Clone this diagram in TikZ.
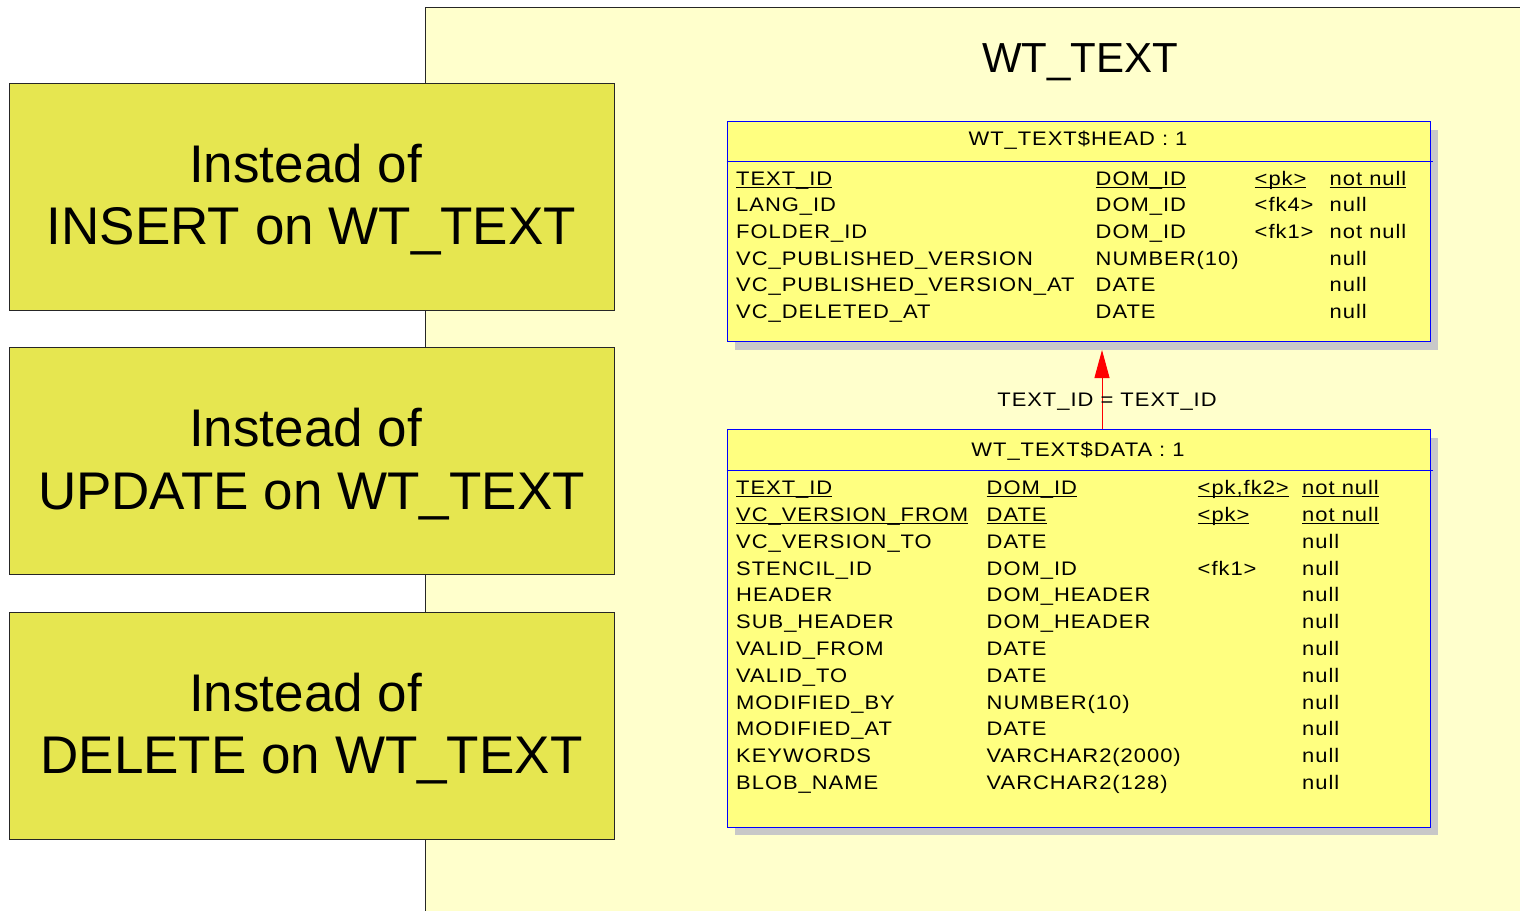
\documentclass[tikz,border=0pt]{standalone}
\usepackage{fontspec}
\setmainfont{Liberation Sans}
\newfontfamily\tabfont[FakeStretch=1.12,LetterSpace=5]{Liberation Sans}
\usetikzlibrary{arrows.meta,shadows}

\definecolor{pkgfill}{RGB}{255,255,204}
\definecolor{trigfill}{RGB}{230,230,80}
\definecolor{tblfill}{RGB}{255,255,128}
\definecolor{tblline}{RGB}{0,0,255}
\definecolor{shadowgray}{RGB}{200,200,200}

% underline at a fixed depth, continuous with the underscores
\newcommand\colul[1]{\setbox0\hbox{#1}\rlap{\rule[-2.6pt]{\wd0}{1.1pt}}\box0}

\tikzset{
  pkgbox/.style={draw=black!85, line width=1pt, fill=pkgfill, inner sep=0pt, anchor=north west},
  trigbox/.style={draw=black!85, line width=1pt, fill=trigfill, inner sep=0pt, anchor=north west,
    minimum width=605pt, minimum height=227pt},
  trigtext/.style={anchor=base, inner sep=0pt, font=\fontsize{53}{62}\selectfont},
  tblbox/.style={draw=tblline, line width=1pt, fill=tblfill, inner sep=0pt, anchor=north west,
    minimum width=703pt,
    drop shadow={shadow xshift=8pt, shadow yshift=-8pt, fill=shadowgray, opacity=1}},
  tbltitle/.style={anchor=base, inner sep=0pt, font=\tabfont\fontsize{19.6}{24}\selectfont},
  cellt/.style={anchor=base west, inner sep=0pt, font=\tabfont\fontsize{19.6}{24}\selectfont},
  sepline/.style={draw=tblline, line width=1pt},
  relarrow/.style={draw=red, line width=1pt, -{Triangle[length=28pt,width=15pt]}, red},
}

\begin{document}
\begin{tikzpicture}[x=1pt,y=-1pt]
\useasboundingbox (0,0) rectangle (1520,910);
\clip (0,0) rectangle (1520,910);
\fill[white] (0,0) rectangle (1520,910);

% package frame
\node[pkgbox, minimum width=1095pt, minimum height=930pt] (pkg) at (424.5,6.5) {};
\node[anchor=base, inner sep=0pt, font=\fontsize{42}{50}\selectfont] (pkgname) at (1080,72.7) {WT\_TEXT};

% trigger boxes
\node[trigbox] (tins) at (8.5,82.5) {};
\node[trigtext] (tins1) at (305.5,182.3) {Instead of};
\node[trigtext] (tins2) at (311.5,244) {INSERT on WT\_TEXT};

\node[trigbox] (tupd) at (8.5,347) {};
\node[trigtext] (tupd1) at (305.5,446.7) {Instead of};
\node[trigtext] (tupd2) at (311.5,509.3) {UPDATE on WT\_TEXT};

\node[trigbox] (tdel) at (8.5,611.5) {};
\node[trigtext] (tdel1) at (305.5,711.7) {Instead of};
\node[trigtext] (tdel2) at (311.5,773.3) {DELETE on WT\_TEXT};

% table WT_TEXT$HEAD
\node[tblbox, minimum height=220pt] (head) at (726.5,121) {};
\draw[sepline] ([yshift=-40.7pt]head.north west) -- ([xshift=2.5pt,yshift=-40.7pt]head.north east);
\node[tbltitle] (headtitle) at (1078,145) {WT\_TEXT\$HEAD : 1};

\node[cellt] (h0n) at (736,185.3) {\colul{TEXT\_ID}};
\node[cellt] (h0t) at (1095.5,185.3) {\colul{DOM\_ID}};
\node[cellt] (h0k) at (1254.5,185.3) {\colul{<pk>}};
\node[cellt] (h0u) at (1329.5,185.3) {\colul{not null}};
\foreach \k/\n/\t/\u in {1/LANG\_ID/DOM\_ID/null,
                         2/FOLDER\_ID/DOM\_ID/not null,
                         3/VC\_PUBLISHED\_VERSION/NUMBER(10)/null,
                         4/VC\_PUBLISHED\_VERSION\_AT/DATE/null,
                         5/VC\_DELETED\_AT/DATE/null}{
  \node[cellt] (h\k n) at (736,185.3+26.67*\k) {\n};
  \node[cellt] (h\k t) at (1095.5,185.3+26.67*\k) {\t};
  \node[cellt] (h\k u) at (1329.5,185.3+26.67*\k) {\u};
}
\node[cellt] (h1k) at (1254.5,185.3+26.67) {<fk4>};
\node[cellt] (h2k) at (1254.5,185.3+53.34) {<fk1>};

% table WT_TEXT$DATA
\node[tblbox, minimum height=397.5pt] (data) at (726.5,429.3) {};
\draw[sepline] ([yshift=-40.7pt]data.north west) -- ([xshift=2.5pt,yshift=-40.7pt]data.north east);
\node[tbltitle] (datatitle) at (1078,456) {WT\_TEXT\$DATA : 1};

\node[cellt] (d0n) at (736,494.7) {\colul{TEXT\_ID}};
\node[cellt] (d0t) at (986.5,494.7) {\colul{DOM\_ID}};
\node[cellt] (d0k) at (1197.5,494.7) {\colul{<pk,fk2>}};
\node[cellt] (d0u) at (1302,494.7) {\colul{not null}};
\node[cellt] (d1n) at (736,494.7+26.8) {\colul{VC\_VERSION\_FROM}};
\node[cellt] (d1t) at (986.5,494.7+26.8) {\colul{DATE}};
\node[cellt] (d1k) at (1197.5,494.7+26.8) {\colul{<pk>}};
\node[cellt] (d1u) at (1302,494.7+26.8) {\colul{not null}};
\foreach \k/\n/\t in {2/VC\_VERSION\_TO/DATE,
                      3/STENCIL\_ID/DOM\_ID,
                      4/HEADER/DOM\_HEADER,
                      5/SUB\_HEADER/DOM\_HEADER,
                      6/VALID\_FROM/DATE,
                      7/VALID\_TO/DATE,
                      8/MODIFIED\_BY/NUMBER(10),
                      9/MODIFIED\_AT/DATE,
                      10/KEYWORDS/VARCHAR2(2000),
                      11/BLOB\_NAME/VARCHAR2(128)}{
  \node[cellt] (d\k n) at (736,494.7+26.8*\k) {\n};
  \node[cellt] (d\k t) at (986.5,494.7+26.8*\k) {\t};
  \node[cellt] (d\k u) at (1302,494.7+26.8*\k) {null};
}
\node[cellt] (d3k) at (1197.5,494.7+26.8*3) {<fk1>};

% reference DATA -> HEAD
\coordinate (reftip) at (1102,350);
\draw[relarrow] (data.north -| reftip) -- (reftip);
\node[tbltitle] (reflabel) at (1107,406.7) {TEXT\_ID = TEXT\_ID};
\end{tikzpicture}
\end{document}
